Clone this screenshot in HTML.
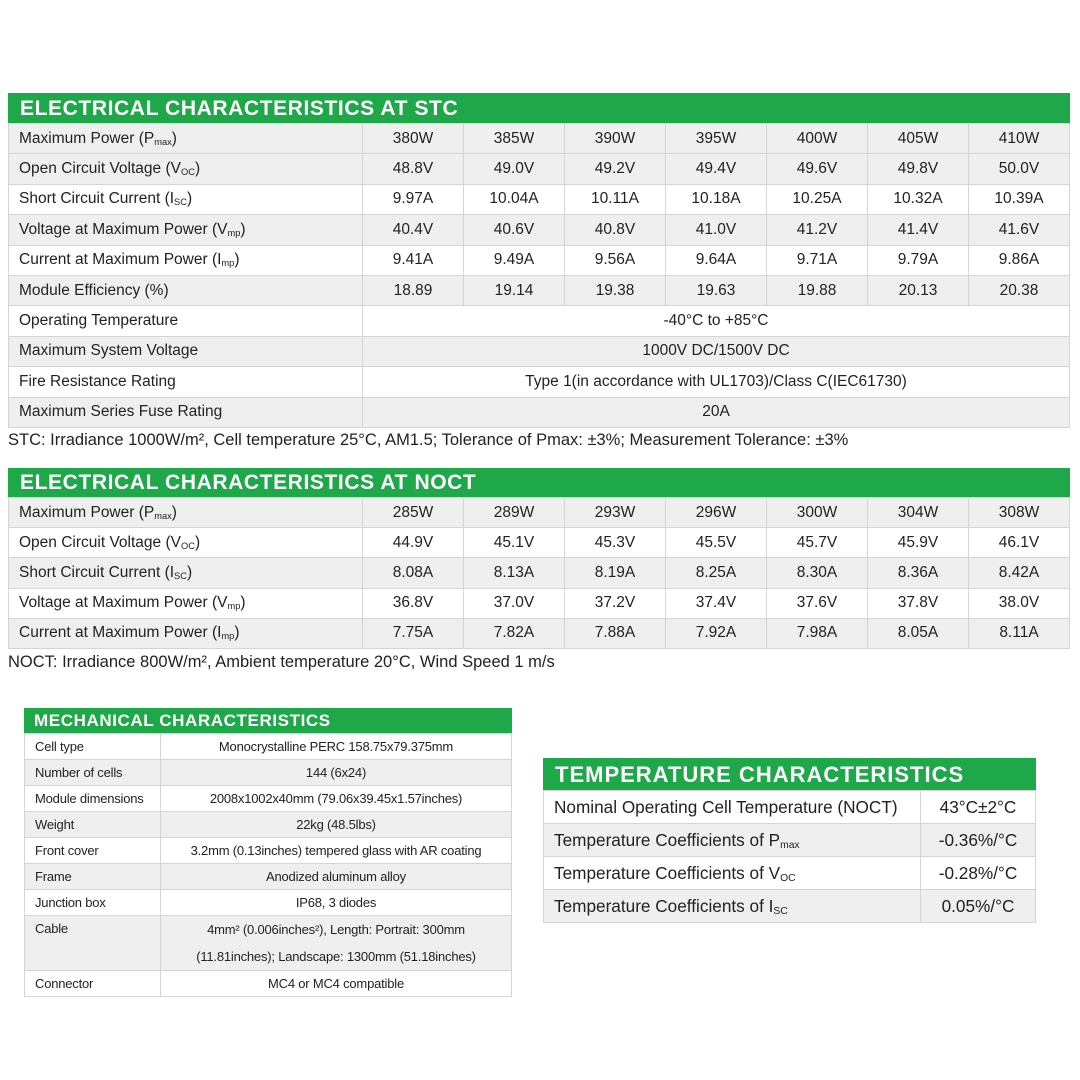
<!DOCTYPE html>
<html><head><meta charset="utf-8"><style>
body{margin:0;width:1080px;height:1080px;background:#fff;position:relative;overflow:hidden;font-family:"Liberation Sans",sans-serif;color:#222}
.box{position:absolute}
.hd{background:#1fa84a;color:#fff;font-weight:bold;box-sizing:border-box;white-space:nowrap}
table{border-collapse:collapse;width:100%;table-layout:fixed}
td{border:1px solid #d4d4d4;padding:0;white-space:nowrap;overflow:hidden}
td.l{text-align:left;padding-left:10px}
td{text-align:center}
tr.g td{background:#efefef}
sub{font-size:60%;vertical-align:-2px}
.note{position:absolute;font-size:16.5px;white-space:nowrap}
</style></head><body>

<div class="box" style="left:8px;top:93px;width:1062px">
<div class="hd" style="height:30px;font-size:21px;line-height:31px;padding-left:12px;letter-spacing:0.6px">ELECTRICAL CHARACTERISTICS AT STC</div>
<table style="font-size:15.5px">
<colgroup><col style="width:354px"><col><col><col><col><col><col><col></colgroup>
<tr class="g" style="height:30.4px"><td class="l">Maximum Power (P<sub>max</sub>)</td><td>380W</td><td>385W</td><td>390W</td><td>395W</td><td>400W</td><td>405W</td><td>410W</td></tr>
<tr class="g" style="height:30.4px"><td class="l">Open Circuit Voltage (V<sub>OC</sub>)</td><td>48.8V</td><td>49.0V</td><td>49.2V</td><td>49.4V</td><td>49.6V</td><td>49.8V</td><td>50.0V</td></tr>
<tr style="height:30.4px"><td class="l">Short Circuit Current (I<sub>SC</sub>)</td><td>9.97A</td><td>10.04A</td><td>10.11A</td><td>10.18A</td><td>10.25A</td><td>10.32A</td><td>10.39A</td></tr>
<tr class="g" style="height:30.4px"><td class="l">Voltage at Maximum Power (V<sub>mp</sub>)</td><td>40.4V</td><td>40.6V</td><td>40.8V</td><td>41.0V</td><td>41.2V</td><td>41.4V</td><td>41.6V</td></tr>
<tr style="height:30.4px"><td class="l">Current at Maximum Power (I<sub>mp</sub>)</td><td>9.41A</td><td>9.49A</td><td>9.56A</td><td>9.64A</td><td>9.71A</td><td>9.79A</td><td>9.86A</td></tr>
<tr class="g" style="height:30.4px"><td class="l">Module Efficiency (%)</td><td>18.89</td><td>19.14</td><td>19.38</td><td>19.63</td><td>19.88</td><td>20.13</td><td>20.38</td></tr>
<tr style="height:30.4px"><td class="l">Operating Temperature</td><td colspan="7">-40°C to +85°C</td></tr>
<tr class="g" style="height:30.4px"><td class="l">Maximum System Voltage</td><td colspan="7">1000V DC/1500V DC</td></tr>
<tr style="height:30.4px"><td class="l">Fire Resistance Rating</td><td colspan="7">Type 1(in accordance with UL1703)/Class C(IEC61730)</td></tr>
<tr class="g" style="height:30.4px"><td class="l">Maximum Series Fuse Rating</td><td colspan="7">20A</td></tr>
</table></div>
<div class="note" style="left:8px;top:431px">STC: Irradiance 1000W/m², Cell temperature 25°C, AM1.5; Tolerance of Pmax: ±3%; Measurement Tolerance: ±3%</div>

<div class="box" style="left:8px;top:468px;width:1062px">
<div class="hd" style="height:29px;font-size:21px;line-height:30px;padding-left:12px;letter-spacing:0.6px">ELECTRICAL CHARACTERISTICS AT NOCT</div>
<table style="font-size:15.5px">
<colgroup><col style="width:354px"><col><col><col><col><col><col><col></colgroup>
<tr class="g" style="height:30.2px"><td class="l">Maximum Power (P<sub>max</sub>)</td><td>285W</td><td>289W</td><td>293W</td><td>296W</td><td>300W</td><td>304W</td><td>308W</td></tr>
<tr style="height:30.2px"><td class="l">Open Circuit Voltage (V<sub>OC</sub>)</td><td>44.9V</td><td>45.1V</td><td>45.3V</td><td>45.5V</td><td>45.7V</td><td>45.9V</td><td>46.1V</td></tr>
<tr class="g" style="height:30.2px"><td class="l">Short Circuit Current (I<sub>SC</sub>)</td><td>8.08A</td><td>8.13A</td><td>8.19A</td><td>8.25A</td><td>8.30A</td><td>8.36A</td><td>8.42A</td></tr>
<tr style="height:30.2px"><td class="l">Voltage at Maximum Power (V<sub>mp</sub>)</td><td>36.8V</td><td>37.0V</td><td>37.2V</td><td>37.4V</td><td>37.6V</td><td>37.8V</td><td>38.0V</td></tr>
<tr class="g" style="height:30.2px"><td class="l">Current at Maximum Power (I<sub>mp</sub>)</td><td>7.75A</td><td>7.82A</td><td>7.88A</td><td>7.92A</td><td>7.98A</td><td>8.05A</td><td>8.11A</td></tr>
</table></div>
<div class="note" style="left:8px;top:653px">NOCT: Irradiance 800W/m², Ambient temperature 20°C, Wind Speed 1 m/s</div>

<div class="box" style="left:24px;top:708px;width:488px">
<div class="hd" style="height:25px;font-size:17px;line-height:26px;padding-left:10px;letter-spacing:0.6px">MECHANICAL CHARACTERISTICS</div>
<table style="font-size:13px;letter-spacing:-0.2px">
<colgroup><col style="width:136px"><col></colgroup>
<tr style="height:26px"><td class="l">Cell type</td><td>Monocrystalline PERC 158.75x79.375mm</td></tr>
<tr class="g" style="height:26px"><td class="l">Number of cells</td><td>144 (6x24)</td></tr>
<tr style="height:26px"><td class="l">Module dimensions</td><td>2008x1002x40mm (79.06x39.45x1.57inches)</td></tr>
<tr class="g" style="height:26px"><td class="l">Weight</td><td>22kg (48.5lbs)</td></tr>
<tr style="height:26px"><td class="l">Front cover</td><td>3.2mm (0.13inches) tempered glass with AR coating</td></tr>
<tr class="g" style="height:26px"><td class="l">Frame</td><td>Anodized aluminum alloy</td></tr>
<tr style="height:26px"><td class="l">Junction box</td><td>IP68, 3 diodes</td></tr>
<tr class="g" style="height:53px"><td class="l" style="vertical-align:top;padding-top:5px">Cable</td><td style="line-height:27px">4mm² (0.006inches²), Length: Portrait: 300mm<br>(11.81inches); Landscape: 1300mm (51.18inches)</td></tr>
<tr style="height:26px"><td class="l">Connector</td><td>MC4 or MC4 compatible</td></tr>
</table></div>

<div class="box" style="left:543px;top:758px;width:493px">
<div class="hd" style="height:32px;font-size:22px;line-height:33px;padding-left:12px;letter-spacing:1px">TEMPERATURE CHARACTERISTICS</div>
<table style="font-size:17.2px">
<colgroup><col style="width:377px"><col></colgroup>
<tr style="height:33px"><td class="l">Nominal Operating Cell Temperature (NOCT)</td><td>43°C±2°C</td></tr>
<tr class="g" style="height:33px"><td class="l">Temperature Coefficients of P<sub>max</sub></td><td>-0.36%/°C</td></tr>
<tr style="height:33px"><td class="l">Temperature Coefficients of V<sub>OC</sub></td><td>-0.28%/°C</td></tr>
<tr class="g" style="height:33px"><td class="l">Temperature Coefficients of I<sub>SC</sub></td><td>0.05%/°C</td></tr>
</table></div>
</body></html>
